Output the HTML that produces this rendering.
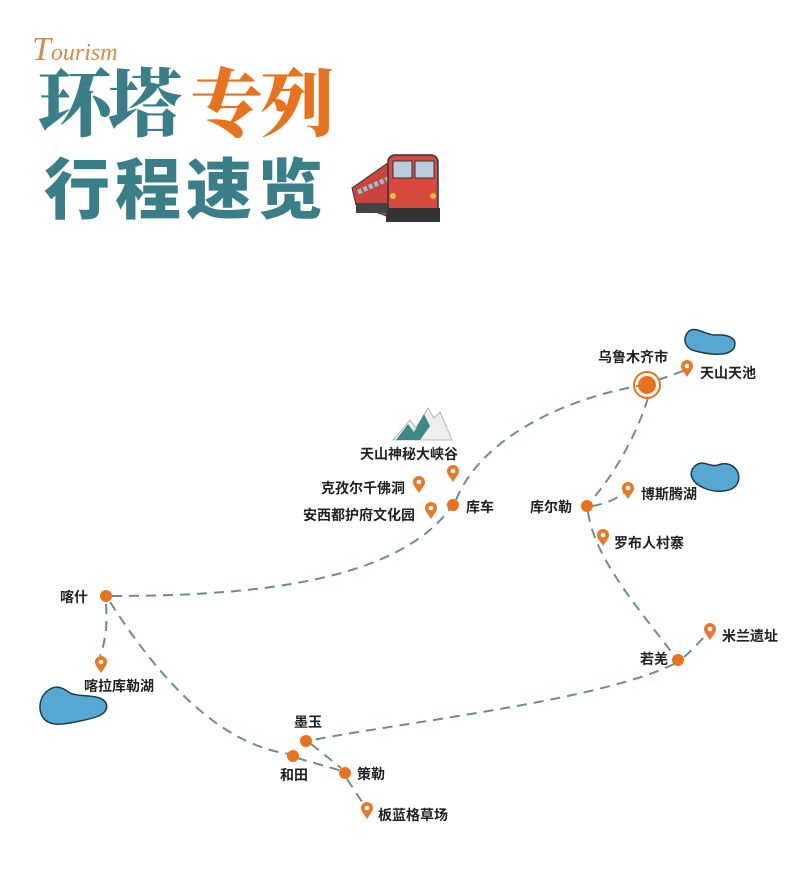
<!DOCTYPE html>
<html><head><meta charset="utf-8"><style>
body{margin:0;background:#fff}
svg text{font-family:"Liberation Sans","Noto Sans CJK SC",sans-serif;font-weight:bold;fill:#222}
</style></head><body>
<svg width="800" height="885" viewBox="0 0 800 885" xmlns="http://www.w3.org/2000/svg">
<defs>
<g id="pin"><path d="M0,0 C-4,-6 -6,-8 -6,-11 A6,6 0 1 1 6,-11 C6,-8 4,-6 0,0Z" fill="#e8782a"/><circle cx="0" cy="-11" r="2.3" fill="#fff"/></g>
</defs>
<text x="32" y="60" style="font-family:'Liberation Serif',serif;font-style:italic;font-weight:normal;fill:#d7894a" font-size="34">T<tspan font-size="24">ourism</tspan></text>
<text x="38" y="130" font-size="74" style="fill:#3a7f87;font-family:'Noto Serif CJK SC',serif;font-weight:900" letter-spacing="-4">环塔</text>
<text x="190" y="130" font-size="74" style="fill:#e8731f;font-family:'Noto Serif CJK SC',serif;font-weight:900" letter-spacing="-4">专列</text>
<text x="44" y="213" font-size="66" style="fill:#3a7f87;font-weight:900" letter-spacing="5">行程速览</text>
<g>
<polygon points="352,188 392,160 392,218 356,205" fill="#c8443c" stroke="#333" stroke-width="1"/>
<line x1="358" y1="192" x2="390" y2="178" stroke="#9bc" stroke-width="5" stroke-dasharray="4,2"/>
<rect x="388" y="155" width="50" height="58" rx="7" fill="#d64a40" stroke="#333" stroke-width="1.5"/>
<rect x="393" y="161" width="19" height="17" fill="#bcd" stroke="#333"/>
<rect x="415" y="161" width="19" height="17" fill="#bcd" stroke="#333"/>
<circle cx="393" cy="196" r="3" fill="#f3c03a"/><circle cx="433" cy="196" r="3" fill="#f3c03a"/>
<rect x="386" y="208" width="54" height="14" fill="#333"/>
<rect x="356" y="203" width="32" height="10" fill="#444"/>
</g>
<path d="M688,332 C695,325 705,335 715,335 C728,334 738,338 734,348 C728,358 705,354 692,350 C684,346 683,338 688,332Z" fill="#56a8d2" stroke="#1e3d4a" stroke-width="1.5"/>
<path d="M694,467 C702,458 710,468 718,465 C730,460 742,470 738,482 C734,493 715,493 704,488 C692,483 688,474 694,467Z" fill="#56a8d2" stroke="#1e3d4a" stroke-width="1.5"/>
<path d="M46,692 C55,684 62,687 70,693 C80,698 100,693 106,703 C110,714 96,718 80,721 C62,725 48,727 42,716 C38,708 40,698 46,692Z" fill="#56a8d2" stroke="#1e3d4a" stroke-width="1.5"/>
<path d="M393,440 L410,420 L416,428 L428,408 L434,418 L440,412 L452,440 Z" fill="#eee" stroke="#aaa" stroke-width="0.8"/>
<path d="M396,440 L408,424 L414,432 L424,414 L430,426 L420,440 Z" fill="#3b8a83"/>
<g fill="none" stroke="#6f8d8d" stroke-width="2" stroke-dasharray="10,7">
<path d="M112,596 C260,596 400,580 452,506"/>
<path d="M456,500 C480,440 560,400 638,386"/>
<path d="M658,380 L686,370"/>
<path d="M648,398 C635,440 610,480 590,502"/>
<path d="M592,506 C605,504 615,500 625,492"/>
<path d="M588,512 C595,560 640,610 676,658"/>
<path d="M684,657 C695,648 700,640 708,634"/>
<path d="M674,664 C600,700 420,720 312,740"/>
<path d="M106,604 C108,630 104,645 100,656"/>
<path d="M110,602 C160,680 220,745 290,754"/>
<path d="M297,758 L342,771"/>
<path d="M311,744 L341,768"/>
<path d="M347,779 L364,805"/>
</g>
<g fill="#e8731f">
<circle cx="647" cy="385" r="13" fill="none" stroke="#e8731f" stroke-width="2"/>
<circle cx="647" cy="385" r="9"/>
<circle cx="587" cy="506" r="6"/>
<circle cx="678" cy="660" r="6"/>
<circle cx="453" cy="505" r="6"/>
<circle cx="106" cy="596" r="6"/>
<circle cx="306" cy="741" r="6"/>
<circle cx="293" cy="756" r="6"/>
<circle cx="345" cy="773" r="6"/>
</g>
<use href="#pin" x="687" y="377"/>
<use href="#pin" x="628" y="499"/>
<use href="#pin" x="603" y="546"/>
<use href="#pin" x="710" y="640"/>
<use href="#pin" x="453" y="482"/>
<use href="#pin" x="419" y="493"/>
<use href="#pin" x="431" y="519"/>
<use href="#pin" x="101" y="673"/>
<use href="#pin" x="367" y="819"/>
<g font-size="14">
<text x="598" y="362">乌鲁木齐市</text>
<text x="700" y="378">天山天池</text>
<text x="530" y="512">库尔勒</text>
<text x="641" y="499">博斯腾湖</text>
<text x="614" y="548">罗布人村寨</text>
<text x="640" y="664">若羌</text>
<text x="722" y="641">米兰遗址</text>
<text x="466" y="512">库车</text>
<text x="360" y="459">天山神秘大峡谷</text>
<text x="321" y="493">克孜尔千佛洞</text>
<text x="303" y="520">安西都护府文化园</text>
<text x="60" y="602">喀什</text>
<text x="84" y="691">喀拉库勒湖</text>
<text x="294" y="727">墨玉</text>
<text x="280" y="780">和田</text>
<text x="357" y="779">策勒</text>
<text x="378" y="820">板蓝格草场</text>
</g>
</svg>
</body></html>
